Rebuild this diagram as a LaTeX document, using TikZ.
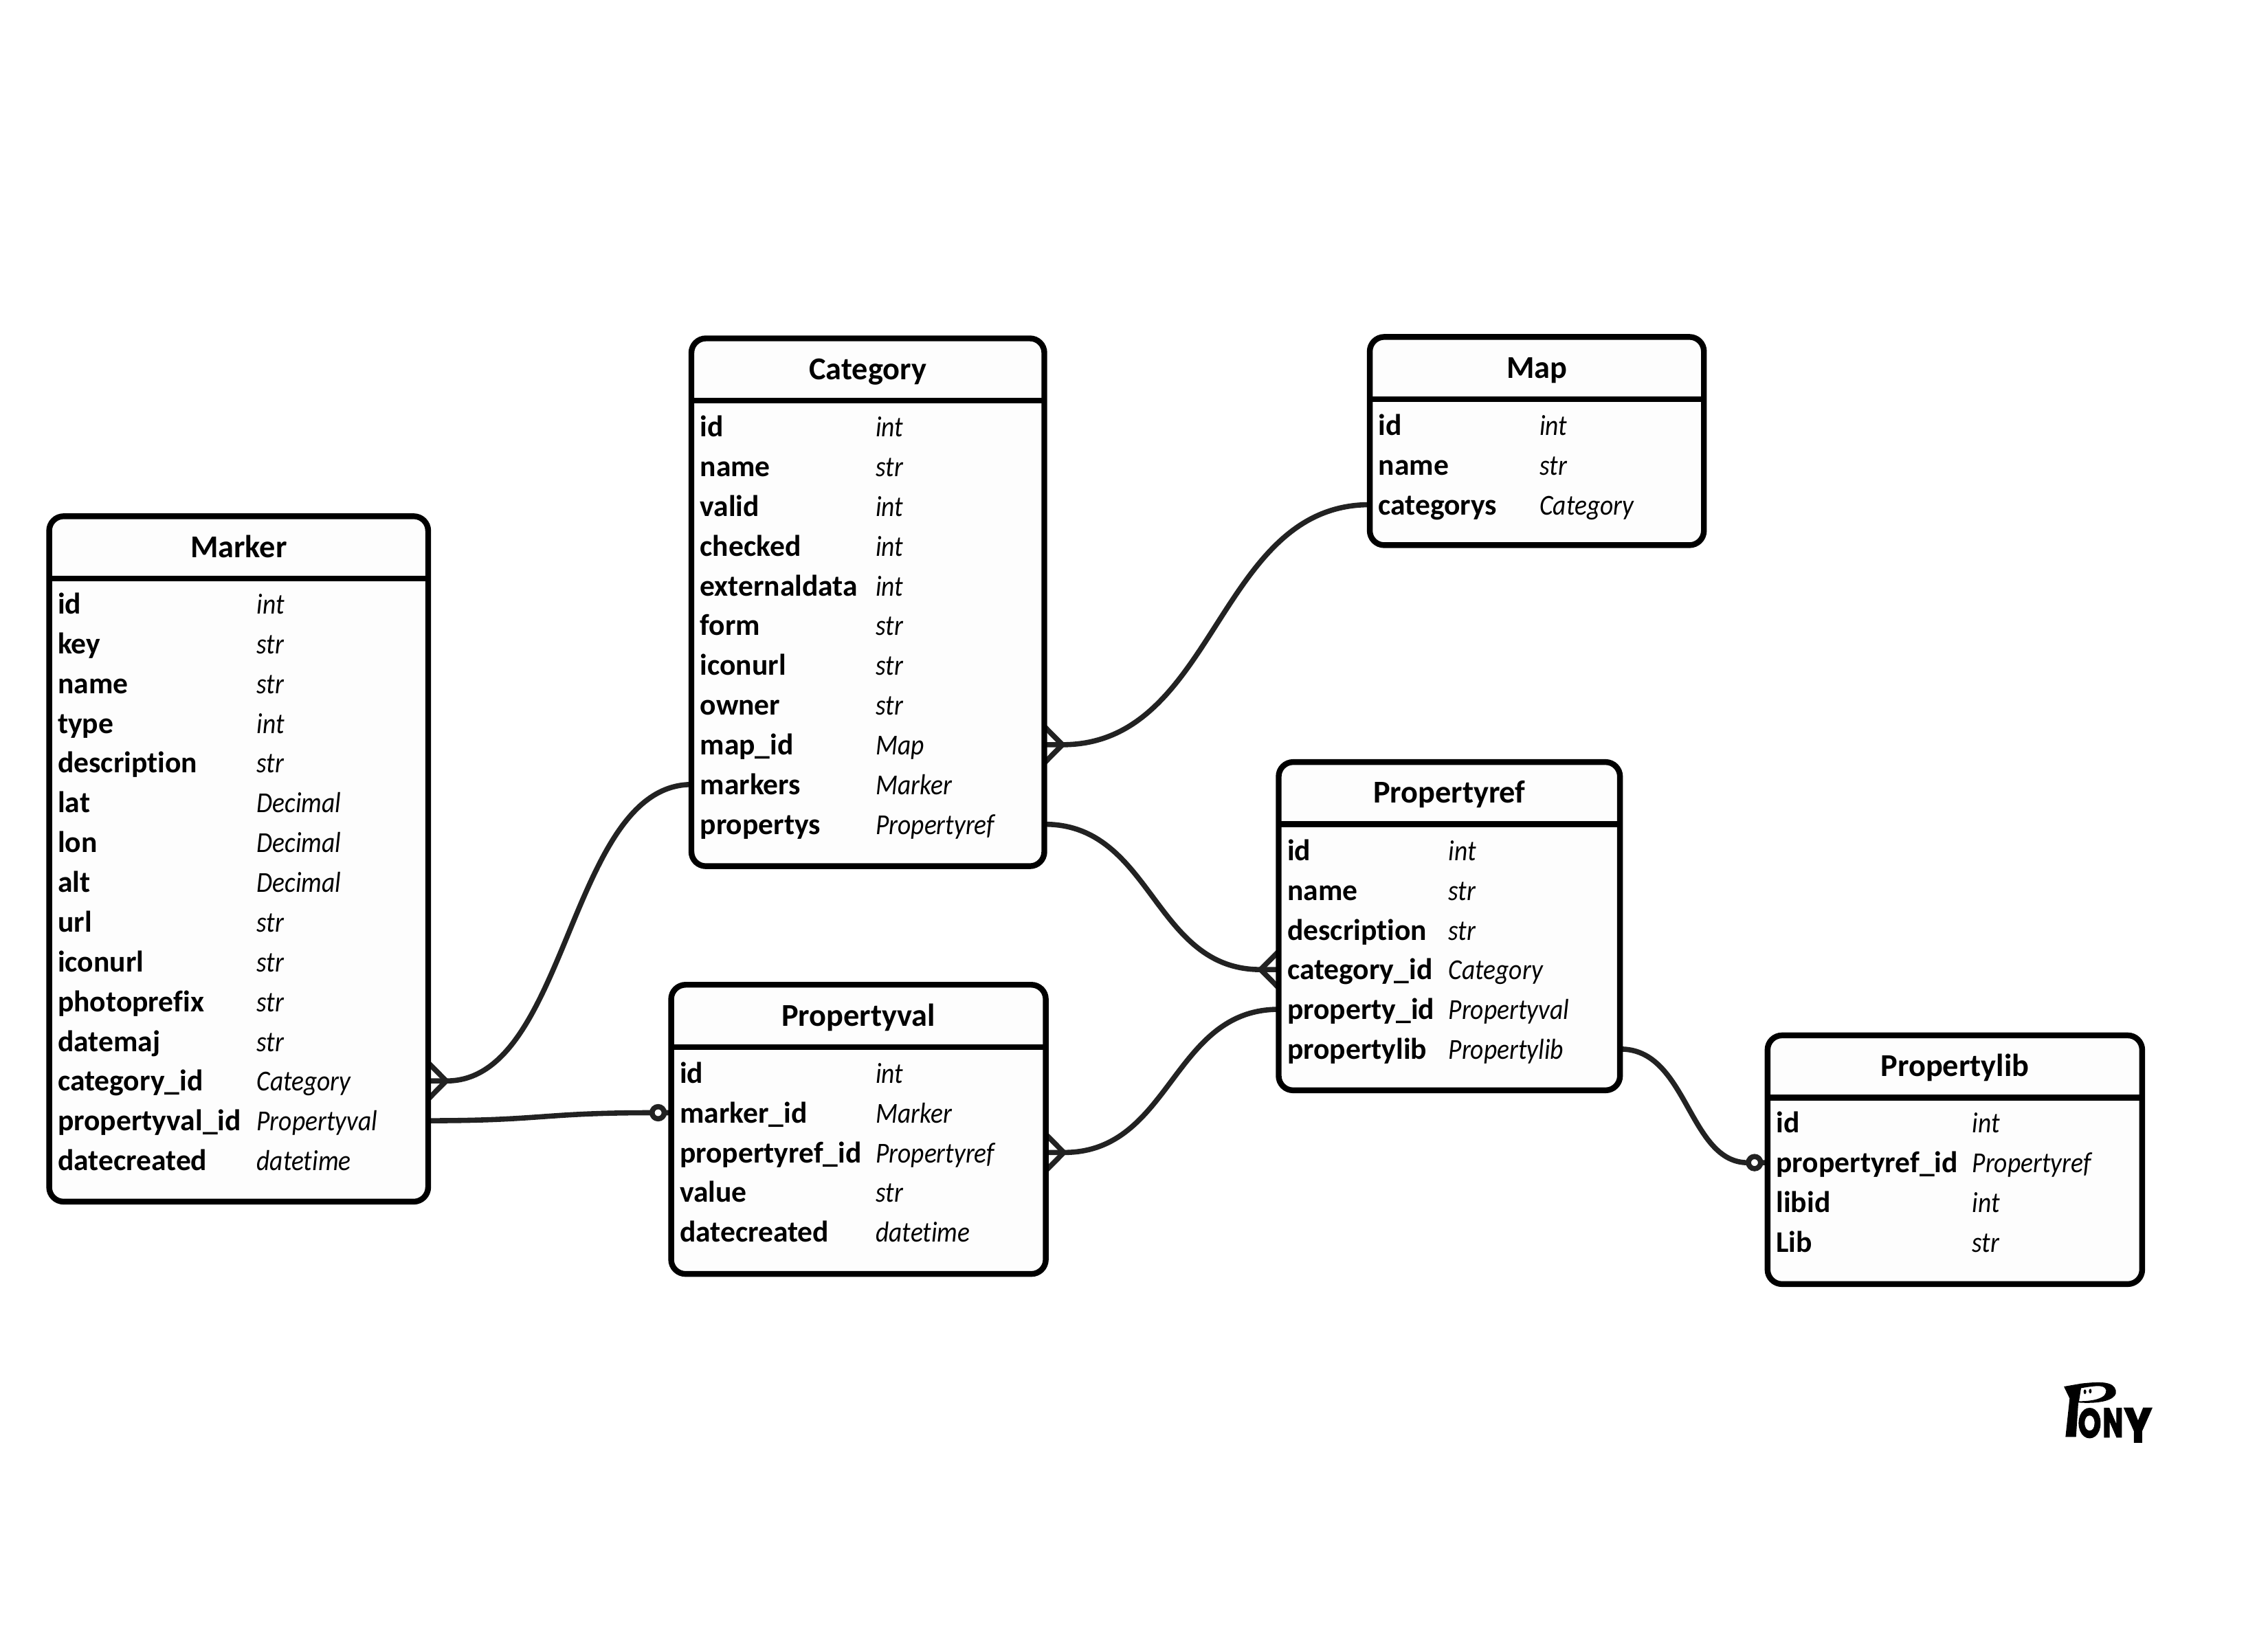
\documentclass[tikz,border=0pt]{standalone}
\usepackage{fontspec}
\usepackage{graphicx}
\setmainfont[Ligatures=NoCommon]{Carlito}
\newfontfamily\logofont[BoldFeatures={FakeBold=3.5}]{Poppins}
\usetikzlibrary{backgrounds,calc}
\definecolor{conn}{HTML}{222222}
\definecolor{boxfill}{HTML}{FDFDFD}
\newcommand{\typetext}[1]{\scalebox{.89}[1]{#1}}
\tikzset{
  erbox/.style={draw=black,fill=boxfill,line width=4pt,rounded corners=10pt,inner sep=0pt,outer sep=0pt,rectangle},
  hdrline/.style={draw=black,line width=4pt},
  titlecell/.style={inner sep=0pt,outer sep=0pt,font=\fontsize{22}{26}\selectfont\bfseries,anchor=base},
  namecell/.style={inner sep=0pt,outer sep=0pt,font=\fontsize{20.7}{24}\selectfont\bfseries,anchor=base west},
  typecell/.style={inner sep=0pt,outer sep=0pt,font=\fontsize{20}{24}\selectfont\itshape,anchor=base west},
  rel/.style={draw=conn,line width=3.6pt},
  ring/.style={circle,draw=conn,fill=white,line width=3.6pt,minimum size=8.4pt,inner sep=0pt,outer sep=0pt},
}
% name,title,x1,y1,x2,y2,col2x,firstrowy,rows
\newcommand{\erbox}[9]{%
  \node[erbox,minimum width={(#5-#3)*1pt},minimum height={(#6-#4)*1pt}] (#1) at ({(#3+#5)/2},{(#4+#6)/2}) {};
  \coordinate (#1-h) at (#3,#4+43);
  \draw[hdrline] (#1.west |- #1-h) -- (#1.east |- #1-h);
  \node[titlecell] (#1-title) at ({(#3+#5)/2},{#4+28.4}) {#2};
  \foreach \nm/\ty [count=\i] in {#9}{
    \coordinate (#1-r\i) at (#3,{#8+27.5*(\i-1)});
    \node[namecell] (#1-n\i) at ({#3+6},{#8+27.5*(\i-1)+7}) {\nm};
    \node[typecell] (#1-t\i) at ({#7+0.5},{#8+27.5*(\i-1)+7}) {\typetext{\ty}};
  }
}
\begin{document}
\begin{tikzpicture}[x=1pt,y=-1pt]
\useasboundingbox (0,0) rectangle (1568,1140.36);
\begin{scope}[on background layer]
\fill[white] (0,0) rectangle (1568,1140.36);
\end{scope}

\erbox{marker}{Marker}{34}{357}{296}{831}{177}{417.5}{id/int,key/str,name/str,type/int,description/str,lat/Decimal,lon/Decimal,alt/Decimal,url/str,iconurl/str,photoprefix/str,datemaj/str,category\_id/Category,propertyval\_id/Propertyval,datecreated/datetime}
\erbox{category}{Category}{478}{234}{722}{599}{605}{295}{id/int,name/str,valid/int,checked/int,externaldata/int,form/str,iconurl/str,owner/str,map\_id/Map,markers/Marker,propertys/Propertyref}
\erbox{map}{Map}{947}{233}{1178}{377}{1064}{294}{id/int,name/str,categorys/Category}
\erbox{propertyref}{Propertyref}{884}{527}{1120}{754}{1001}{588}{id/int,name/str,description/str,category\_id/Category,property\_id/Propertyval,propertylib/Propertylib}
\erbox{propertyval}{Propertyval}{464}{681}{723}{881}{605}{742}{id/int,marker\_id/Marker,propertyref\_id/Propertyref,value/str,datecreated/datetime}
\erbox{propertylib}{Propertylib}{1222}{716}{1481}{888}{1363}{776.5}{id/int,propertyref\_id/Propertyref,libid/int,Lib/str}

% ring ends
\path (propertyval.west |- propertyval-r2) ++(-9,0) node[ring] (ringval) {};
\path (propertylib.west |- propertylib-r2) ++(-9,0) node[ring] (ringlib) {};
% crow's-foot apexes
\coordinate (crowa) at ($(marker.east |- marker-r13)+(12.5,0)$);
\coordinate (crowb) at ($(category.east |- category-r9)+(12.5,0)$);
\coordinate (crowc) at ($(propertyref.west |- propertyref-r4)+(-12.5,0)$);
\coordinate (crowd) at ($(propertyval.east |- propertyval-r3)+(12.5,0)$);

\begin{scope}[on background layer]
% Marker.category_id -- Category.markers
\draw[rel] (marker.east |- marker-r13) -- (crowa) .. controls (393,748) and (393,543) .. (category.west |- category-r10);
\draw[rel] (marker.east |- marker-r13) ++(0,-12.6) -- (crowa) -- ($(marker.east |- marker-r13)+(0,12.6)$);
% Marker.propertyval_id -- Propertyval.marker_id
\draw[rel] (marker.east |- marker-r14) .. controls (375,775) and (375,769.5) .. (ringval) -- (propertyval.west |- ringval);
% Category.map_id -- Map.categorys
\draw[rel] (category.east |- category-r9) -- (crowb) .. controls (841,515) and (841,349) .. (map.west |- map-r3);
\draw[rel] (category.east |- category-r9) ++(0,-12.6) -- (crowb) -- ($(category.east |- category-r9)+(0,12.6)$);
% Category.propertys -- Propertyref.category_id
\draw[rel] (category.east |- category-r11) .. controls (797,570) and (797,670.5) .. (crowc) -- (propertyref.west |- crowc);
\draw[rel] (propertyref.west |- crowc) ++(0,-12.6) -- (crowc) -- ($(propertyref.west |- crowc)+(0,12.6)$);
% Propertyval.propertyref_id -- Propertyref.property_id
\draw[rel] (propertyval.east |- propertyval-r3) -- (crowd) .. controls (810,797) and (810,698) .. (propertyref.west |- propertyref-r5);
\draw[rel] (propertyval.east |- propertyval-r3) ++(0,-12.6) -- (crowd) -- ($(propertyval.east |- propertyval-r3)+(0,12.6)$);
% Propertyref.propertylib -- Propertylib.propertyref_id
\draw[rel] (propertyref.east |- propertyref-r6) .. controls (1167,725) and (1167,804.5) .. (ringlib) -- (propertylib.west |- ringlib);
\end{scope}

% logo
\begin{scope}[shift={(1400.76,940.17)},x=0.1583pt,y=-0.1583pt]
\fill[black,even odd rule] (165,118) -- (240,105) .. controls (300,98) and (340,98) .. (360,105) .. controls (385,112) and (395,130) .. (392,148) .. controls (385,175) and (330,195) .. (228,188) -- (218,338) -- (172,338) -- (190,170) -- cycle
  (240,125) .. controls (280,118) and (315,113) .. (332,118) .. controls (352,124) and (355,140) .. (340,158) .. controls (320,175) and (280,182) .. (231,182) -- cycle;
\fill[black] (257,141) ellipse [x radius=6,y radius=10];
\fill[black] (280,138) ellipse [x radius=6,y radius=10];
\node[inner sep=0pt,anchor=base west] (logoo) at (226,340) {\logofont\bfseries\fontsize{28}{30}\selectfont\scalebox{.72}[1]{O}};
\node[inner sep=0pt,anchor=base west] (logon) at (334,338) {\logofont\bfseries\fontsize{28}{30}\selectfont\scalebox{.66}[1]{N}};
\node[inner sep=0pt,anchor=base west] (logoy) at (428,360) {\logofont\bfseries\fontsize{33}{35}\selectfont\scalebox{.85}[1]{Y}};
\end{scope}
\end{tikzpicture}
\end{document}
